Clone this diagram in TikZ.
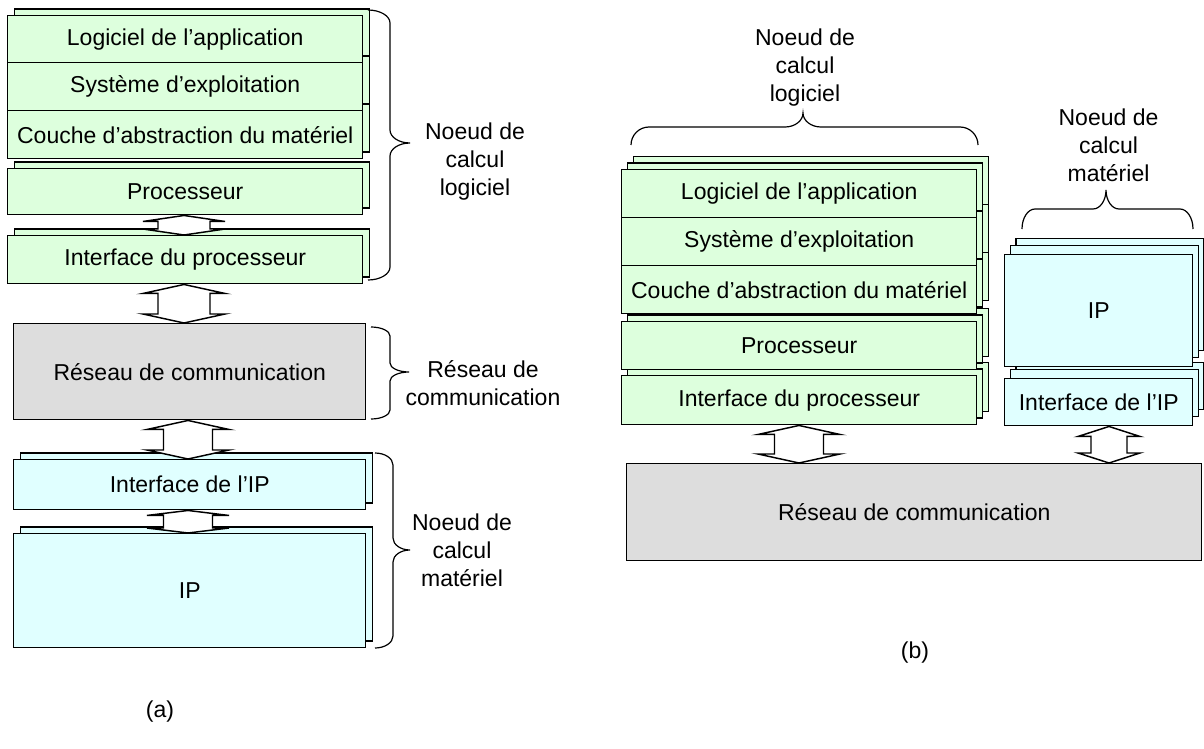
\documentclass[tikz,border=0pt]{standalone}
\usepackage{fontspec}
\setmainfont{Liberation Sans}
\usetikzlibrary{calc,shadows}

\definecolor{softgreen}{HTML}{DDFFDD}
\definecolor{hardcyan}{HTML}{E0FFFF}
\definecolor{netgray}{HTML}{DDDDDD}

% a layer of a stack: name, x1, y1, x2, y2 (pixels, y downwards), style, text
\newcommand\layerbox[7]{%
  \node[#6, anchor=north west,
        minimum width={(#4-#2)*0.75pt}, minimum height={(#5-#3)*0.75pt}]
        (#1) at (#2,#3) {#7};}

% block double arrow between two stacked boxes:
% upper node, lower node, axis coordinate, outer half width, shaft half width, head length
\newcommand\linkarrow[6]{%
  \draw[twoway] (#1.south -| #3) -- ++(#4,#6) -- ++({#5-#4},0)
    -- ($(#2.north -| #3)+(#5,-#6)$) -- ++({#4-#5},0) -- (#2.north -| #3)
    -- ++(-#4,-#6) -- ++({#4-#5},0) -- ($(#1.south -| #3)+(-#5,#6)$)
    -- ++({#5-#4},0) -- cycle;}

% right curly brace: x ends, x stem, x tip, y top, y tip, y bottom, curl radius
\newcommand\curlyright[7]{%
  \draw[bracestyle] (#1,#4) .. controls ({#1+0.55*(#2-#1)},#4) and (#2,{#4+0.45*#7}) .. (#2,{#4+#7})
    -- (#2,{#5-#7}) .. controls (#2,{#5-0.45*#7}) and ({#3-0.55*(#3-#2)},#5) .. (#3,#5)
    .. controls ({#3-0.55*(#3-#2)},#5) and (#2,{#5+0.45*#7}) .. (#2,{#5+#7})
    -- (#2,{#6-#7}) .. controls (#2,{#6-0.45*#7}) and ({#1+0.55*(#2-#1)},#6) .. (#1,#6);}

% upward curly brace: x left, x tip, x right, y ends, y stem, y tip, curl radius
\newcommand\curlyup[7]{%
  \draw[bracestyle] (#1,#4) .. controls (#1,{#4-0.55*(#4-#5)}) and ({#1+0.45*#7},#5) .. ({#1+#7},#5)
    -- ({#2-#7},#5) .. controls ({#2-0.45*#7},#5) and (#2,{#6+0.55*(#5-#6)}) .. (#2,#6)
    .. controls (#2,{#6+0.55*(#5-#6)}) and ({#2+0.45*#7},#5) .. ({#2+#7},#5)
    -- ({#3-#7},#5) .. controls ({#3-0.45*#7},#5) and (#3,{#4-0.55*(#4-#5)}) .. (#3,#4);}

\tikzset{
  layer/.style={draw=black, line width=1.1pt, inner sep=0pt, text=black,
                font=\fontsize{17.25pt}{20pt}\selectfont},
  soft/.style={layer, fill=softgreen},
  hard/.style={layer, fill=hardcyan},
  net/.style={layer, fill=netgray},
  onecopy/.style={copy shadow={shadow xshift=4.9pt, shadow yshift=4.9pt,
                  fill=#1, draw=black, line width=1.1pt}},
  twocopies/.style n args={5}{%
    copy shadow={shadow xshift=#4, shadow yshift=#5, fill=#1, draw=black, line width=1.1pt},
    copy shadow={shadow xshift=#2, shadow yshift=#3, fill=#1, draw=black, line width=1.1pt}},
  twoway/.style={draw=black, fill=white, line width=1.1pt, line join=miter},
  bracestyle/.style={draw=black, line width=0.9pt},
  note/.style={align=center, inner sep=0pt, text=black,
               font=\fontsize{17.25pt}{21pt}\selectfont},
}

\begin{document}
\begin{tikzpicture}[x=0.75pt, y=-0.75pt]
\useasboundingbox (0,0) rectangle (1204,749);
\fill[white] (0,0) rectangle (1204,749);

% ---------- (a) layered view ----------
\layerbox{ifpA}{7}{235}{362}{283}{soft, onecopy=softgreen}{Interface du processeur}
\layerbox{procA}{7}{168}{362}{214}{soft, onecopy=softgreen}{Processeur}
\layerbox{halA}{7}{110}{362}{158}{soft, onecopy=softgreen}{Couche d’abstraction du matériel}
\layerbox{osA}{7}{62}{362}{110}{soft, onecopy=softgreen}{Système d’exploitation}
\layerbox{appA}{7}{15}{362}{62}{soft, onecopy=softgreen}{Logiciel de l’application}
\layerbox{netA}{13}{323}{365}{419}{net}{Réseau de communication}
\layerbox{ifipA}{13}{459}{365}{509}{hard, onecopy=hardcyan}{Interface de l’IP}
\layerbox{ipA}{13}{533}{365}{647}{hard, onecopy=hardcyan}{IP}

\coordinate (axA) at (184,0);
\coordinate (axAlow) at (188,0);
\linkarrow{procA}{ifpA}{axA}{41}{26}{6}
\linkarrow{ifpA}{netA}{axA}{41}{26}{9}
\linkarrow{netA}{ifipA}{axAlow}{41}{24.5}{9}
\linkarrow{ifipA}{ipA}{axAlow}{41}{24.5}{5}

\curlyright{368}{390}{410}{10}{143}{280}{13}
\curlyright{371}{390}{409}{327}{372}{419}{9}
\curlyright{375}{393}{410}{453}{550}{648}{12}

\node[note] (labA1) at (475,162) {Noeud de\\calcul\\logiciel};
\node[note] (labA2) at (483,383) {Réseau de\\communication};
\node[note] (labA3) at (462,550) {Noeud de\\calcul\\matériel};
\node[note] (capA) at (160,712) {(a)};

% ---------- (b) side-by-side view ----------
\layerbox{ifpB}{621}{375}{976}{424}{soft, twocopies={softgreen}{4.5pt}{4.9pt}{9pt}{9.75pt}}{Interface du processeur}
\layerbox{procB}{621}{321}{976}{369}{soft, twocopies={softgreen}{4.5pt}{4.9pt}{9pt}{9.75pt}}{Processeur}
\layerbox{halB}{621}{265}{976}{313}{soft, twocopies={softgreen}{4.5pt}{4.9pt}{9pt}{9.75pt}}{Couche d’abstraction du matériel}
\layerbox{osB}{621}{217}{976}{265}{soft, twocopies={softgreen}{4.5pt}{4.9pt}{9pt}{9.75pt}}{Système d’exploitation}
\layerbox{appB}{621}{169}{976}{217}{soft, twocopies={softgreen}{4.5pt}{4.9pt}{9pt}{9.75pt}}{Logiciel de l’application}
\layerbox{ifipB}{1004}{378}{1192}{425}{hard, twocopies={hardcyan}{4.5pt}{7pt}{8.5pt}{12pt}}{Interface de l’IP}
\layerbox{ipB}{1004}{254}{1192}{366}{hard, twocopies={hardcyan}{4.5pt}{7pt}{8.5pt}{12pt}}{IP}
\layerbox{netB}{626}{463}{1201}{560}{net}{Réseau de communication}

\coordinate (axB) at (799,0);
\coordinate (axC) at (1109,0);
\linkarrow{ifpB}{netB}{axB}{41}{24.5}{9}
\linkarrow{ifipB}{netB}{axC}{31}{18}{10}

\curlyup{631}{803}{978}{145}{127}{113}{18}
\curlyup{1022}{1106}{1193}{229}{209}{190}{13}

\node[note] (labB1) at (805,67.5) {Noeud de\\calcul\\logiciel};
\node[note] (labB2) at (1108.5,145) {Noeud de\\calcul\\matériel};
\node[note] (capB) at (915,653) {(b)};
\end{tikzpicture}
\end{document}
